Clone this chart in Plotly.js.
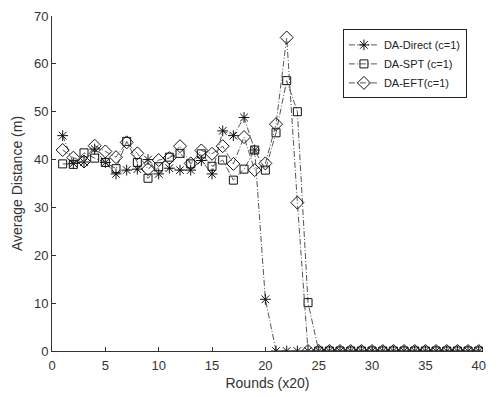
<!DOCTYPE html>
<html>
<head>
<meta charset="utf-8">
<script src="https://cdn.plot.ly/plotly-3.0.1.min.js"></script>
<style>html,body{margin:0;padding:0;background:#fff;}#chart{width:500px;height:397px;}</style>
</head>
<body>
<div id="chart"></div>
<script>
var rounds = [1,2,3,4,5,6,7,8,9,10,11,12,13,14,15,16,17,18,19,20,21,22,23,24,25,26,27,28,29,30,31,32,33,34,35,36,37,38,39,40];
var daDirect = [45,39.2,39.5,42.2,39.4,37,37.8,38,40,37,38.2,37.8,37.8,39.8,37,46,45,48.8,42,10.8,0,0,0,0,0,0,0,0,0,0,0,0,0,0,0,0,0,0,0,0];
var daSPT = [39.1,39,41.4,40.3,39.4,38.1,43.8,39.4,36.1,38.5,40.5,41.3,39.1,41.2,38.6,39.9,35.7,38,42,37.8,45.6,56.5,50,10.1,0,0,0,0,0,0,0,0,0,0,0,0,0,0,0,0];
var daEFT = [42,40.4,39.6,42.9,41.7,40.5,43.6,41.3,38,39.9,40.3,42.8,39.2,41.9,41.2,42.8,39.1,44.7,37.8,39.2,47.4,65.5,31,0,0,0,0,0,0,0,0,0,0,0,0,0,0,0,0,0];
var names = ['DA-Direct (c=1)','DA-SPT (c=1)','DA-EFT(c=1)'];

var lineStyle = {color:'#555', width:1, dash:'6px,2px,1px,2px'};
var traces = [
  {x:rounds, y:daDirect, name:names[0], mode:'lines+markers', line:lineStyle,
   marker:{symbol:'asterisk-open', size:9, color:'#111', line:{color:'#111', width:1}}},
  {x:rounds, y:daSPT, name:names[1], mode:'lines+markers', line:lineStyle,
   marker:{symbol:'square-open', size:8, color:'#111', line:{color:'#111', width:1}}},
  {x:rounds, y:daEFT, name:names[2], mode:'lines+markers', line:lineStyle,
   marker:{symbol:'diamond-open', size:10, color:'#111', line:{color:'#111', width:1}}}
];

var layout = {
  width:500, height:397,
  margin:{l:52, r:17, t:16, b:46},
  paper_bgcolor:'#fff', plot_bgcolor:'#fff',
  font:{family:'Liberation Sans, Arial, sans-serif', size:13, color:'#333'},
  showlegend:true,
  legend:{x:0.675, y:0.96, xanchor:'left', yanchor:'top', bgcolor:'#fff',
          bordercolor:'#222', borderwidth:1, font:{size:11, color:'#222'},
          tracegroupgap:0, itemwidth:30},
  xaxis:{range:[0,40.4], tickvals:[0,5,10,15,20,25,30,35,40], ticks:'inside', ticklen:4,
         tickcolor:'#333', showline:true, linecolor:'#333', linewidth:1, mirror:false,
         showgrid:false, zeroline:false, tickfont:{size:13, color:'#333'}, ticklabelstandoff:2,
         title:{text:'Rounds (x20)', font:{size:14, color:'#333'}, standoff:6}},
  yaxis:{range:[0,70], tickvals:[0,10,20,30,40,50,60,70], ticks:'inside', ticklen:4,
         tickcolor:'#333', showline:true, linecolor:'#333', linewidth:1, mirror:false,
         showgrid:false, zeroline:false, tickfont:{size:13, color:'#333'},
         title:{text:'Average Distance (m)', font:{size:14, color:'#333'}, standoff:8}}
};
Plotly.newPlot('chart', traces, layout, {displayModeBar:false, staticPlot:true});
</script>
</body>
</html>
